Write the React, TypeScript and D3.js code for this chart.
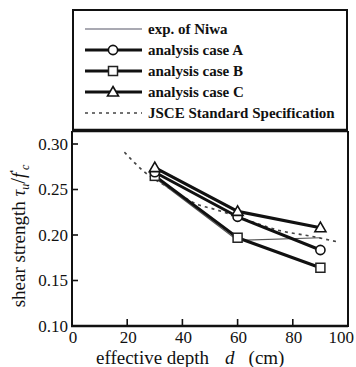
import React from 'react';
import * as d3 from 'd3';

const depths = [30, 60, 90];
const niwa = [0.263, 0.194, 0.197];
const caseA = [0.269, 0.220, 0.1835];
const caseB = [0.265, 0.197, 0.164];
const caseC = [0.274, 0.226, 0.208];
const jsceDepths = [19, 26, 35, 46, 52, 62, 75, 86, 97];
const jsceValues = [0.291, 0.270, 0.252, 0.233, 0.228, 0.218, 0.205, 0.199, 0.192];
const xTicks = [0, 20, 40, 60, 80, 100];
const yTicks = [0.10, 0.15, 0.20, 0.25, 0.30];
const legendLabels = ['exp. of Niwa', 'analysis case A', 'analysis case B', 'analysis case C', 'JSCE Standard Specification'];

const FONT = '"Liberation Serif", "Times New Roman", serif';

type Marker = 'none' | 'circle' | 'square' | 'triangle';

function MarkerShape({ kind, cx, cy }: { kind: Marker; cx: number; cy: number }) {
  if (kind === 'circle') return <circle cx={cx} cy={cy} r={4.6} fill="#fff" stroke="#111" strokeWidth={1.6} />;
  if (kind === 'square') return <rect x={cx - 4.5} y={cy - 4.5} width={9} height={9} fill="#fff" stroke="#222" strokeWidth={1.5} />;
  if (kind === 'triangle')
    return <path d={`M${cx},${cy - 5.5}L${cx + 5.5},${cy + 4}L${cx - 5.5},${cy + 4}Z`} fill="#fff" stroke="#111" strokeWidth={1.6} />;
  return null;
}

export default function App() {
  const x = d3.scaleLinear().domain([0, 100]).range([72, 348]);
  const y = d3.scaleLinear().domain([0.1, 0.3]).range([326, 144]);
  const line = d3.line<[number, number]>().x((d) => x(d[0])).y((d) => y(d[1]));
  const curve = d3.line<[number, number]>().x((d) => x(d[0])).y((d) => y(d[1])).curve(d3.curveMonotoneX);

  const pairs = (vals: number[]) => depths.map((d, i) => [d, vals[i]] as [number, number]);
  const jscePts = jsceDepths.map((d, i) => [d, jsceValues[i]] as [number, number]);

  const series: { vals: number[]; marker: Marker; width: number; color: string }[] = [
    { vals: caseB, marker: 'square', width: 3, color: '#111' },
    { vals: caseA, marker: 'circle', width: 3, color: '#111' },
    { vals: caseC, marker: 'triangle', width: 3.2, color: '#111' },
  ];

  const legendRows = [29, 50, 71, 92, 113];
  const legendMarkers: Marker[] = ['none', 'circle', 'square', 'triangle', 'none'];

  return (
    <svg width={356} height={367} style={{ position: 'absolute', left: 0, top: 0, background: '#fff' }} fontFamily={FONT}>
      {/* JSCE dashed curve */}
      <path d={curve(jscePts) || ''} fill="none" stroke="#444" strokeWidth={1.7} strokeDasharray="3,4" />
      {/* exp of Niwa */}
      <path d={line(pairs(niwa)) || ''} fill="none" stroke="#555" strokeWidth={1.2} />
      {series.map((s, i) => (
        <g key={i}>
          <path d={line(pairs(s.vals)) || ''} fill="none" stroke={s.color} strokeWidth={s.width} strokeLinejoin="round" />
          {depths.map((d, j) => (
            <MarkerShape key={j} kind={s.marker} cx={x(d)} cy={y(s.vals[j])} />
          ))}
        </g>
      ))}

      {/* frame */}
      <line x1={72} y1={131} x2={72} y2={327} stroke="#111" strokeWidth={2} />
      <line x1={71} y1={326} x2={348} y2={326} stroke="#111" strokeWidth={2.4} />
      <line x1={348} y1={131} x2={348} y2={327} stroke="#111" strokeWidth={2} />

      {/* y ticks */}
      {yTicks.map((t) => (
        <g key={t}>
          {t > 0.1 && <line x1={72} x2={78} y1={y(t)} y2={y(t)} stroke="#111" strokeWidth={1.6} />}
          <text x={68} y={y(t) + 5.5} textAnchor="end" fontSize={17} fill="#111">
            {t.toFixed(2)}
          </text>
        </g>
      ))}
      {/* x ticks */}
      {xTicks.map((t) => (
        <g key={t}>
          {t > 0 && t < 100 && <line x1={x(t)} x2={x(t)} y1={326} y2={319} stroke="#111" strokeWidth={1.6} />}
          <text
            x={t === 100 ? 354 : x(t) + 1}
            y={343}
            textAnchor={t === 100 ? 'end' : 'middle'}
            fontSize={17}
            fill="#111"
          >
            {t}
          </text>
        </g>
      ))}

      {/* axis titles */}
      <text x={96} y={364} fontSize={19} fill="#111">
        effective depth
        <tspan dx={16} fontStyle="italic">d</tspan>
        <tspan dx={14}>(cm)</tspan>
      </text>
      <text transform="translate(25,236) rotate(-90)" textAnchor="middle" fontSize={19} fill="#111">
        shear strength{' '}
        <tspan fontStyle="italic">τ</tspan>
        <tspan fontStyle="italic" fontSize={12} dy={4}>u</tspan>
        <tspan dy={-4} fontSize={21}>/</tspan>
        <tspan fontStyle="italic">f</tspan>
        <tspan fontSize={12} dy={-7}>′</tspan>
        <tspan fontStyle="italic" fontSize={12} dy={11}>c</tspan>
      </text>

      {/* legend */}
      <rect x={73} y={10} width={274} height={121} fill="#fff" stroke="#111" strokeWidth={2} />
      <line x1={72} x2={348} y1={130.5} y2={130.5} stroke="#111" strokeWidth={3.5} />
      {legendLabels.map((lab, i) => {
        const ly = legendRows[i];
        return (
          <g key={lab}>
            {i === 0 && <line x1={85} x2={142} y1={ly} y2={ly} stroke="#556" strokeWidth={1.2} />}
            {i > 0 && i < 4 && <line x1={85} x2={142} y1={ly} y2={ly} stroke="#111" strokeWidth={2.8} />}
            {i === 4 && <line x1={85} x2={142} y1={ly} y2={ly} stroke="#444" strokeWidth={1.3} strokeDasharray="3,4" />}
            <MarkerShape kind={legendMarkers[i]} cx={113} cy={ly} />
            <text x={148} y={ly + 5} fontSize={15} fontWeight="bold" fill="#111">
              {lab}
            </text>
          </g>
        );
      })}
    </svg>
  );
}
